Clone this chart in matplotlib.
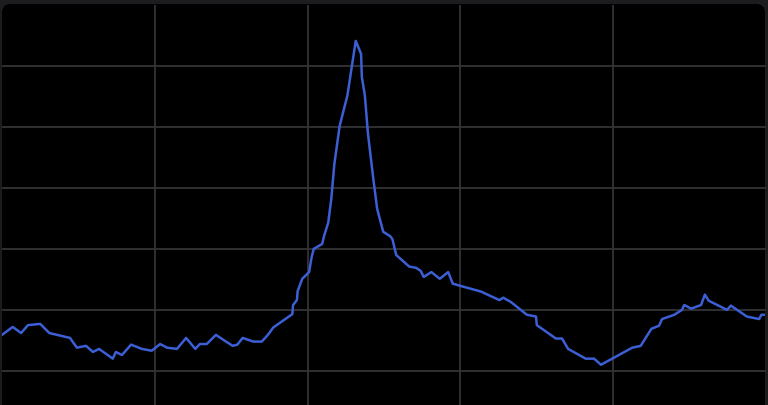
import matplotlib
matplotlib.use("Agg")
import matplotlib.pyplot as plt
from matplotlib.patches import FancyBboxPatch

# values (grid every 20 on x, every 10 on y)
x = [0.0, 1.4, 2.5, 3.4, 5.0, 6.2, 8.9, 9.8, 11.0, 11.9, 12.7, 14.5, 14.9, 15.7,
     16.9, 18.3, 19.6, 20.7, 21.6, 22.9, 24.1, 25.3, 25.9, 26.8, 28.0, 29.2, 30.2,
     30.8, 31.5, 32.9, 34.0, 34.8, 35.5, 36.4, 38.0, 38.1, 38.6, 38.7, 39.3, 40.2,
     40.5, 40.8, 41.9, 42.2, 42.7, 43.1, 43.5, 44.2, 45.2, 46.3, 47.0, 47.1, 47.5,
     47.9, 48.6, 49.1, 49.9, 50.8, 51.1, 51.6, 53.3, 54.2, 54.8, 55.2, 56.2, 57.3,
     58.4, 59.0, 60.1, 62.7, 65.1, 65.6, 66.6, 68.7, 69.9, 70.0, 72.5, 73.3, 74.1,
     76.4, 77.5, 78.4, 82.5, 83.6, 85.0, 86.0, 86.4, 88.0, 89.0, 89.3, 90.2, 91.5,
     92.0, 92.5, 94.9, 95.4, 97.5, 99.1, 99.4, 99.7]
y = [15.9, 17.2, 16.2, 17.5, 17.7, 16.2, 15.4, 13.8, 14.1, 13.1, 13.6, 12.0, 13.1, 12.6,
     14.3, 13.6, 13.3, 14.4, 13.8, 13.6, 15.4, 13.6, 14.4, 14.4, 15.9, 14.9, 14.1,
     14.3, 15.4, 14.8, 14.8, 15.9, 17.1, 17.9, 19.3, 20.8, 21.6, 23.1, 25.1, 26.2,
     28.5, 30.0, 30.8, 32.3, 34.3, 38.2, 43.9, 50.2, 55.1, 64.1, 62.0, 58.2, 55.1,
     48.9, 41.5, 36.6, 32.8, 32.1, 31.6, 29.0, 27.1, 26.9, 26.4, 25.4, 26.2, 25.1,
     26.2, 24.3, 23.9, 23.0, 21.6, 22.0, 21.3, 19.2, 18.9, 17.5, 15.3, 15.3, 13.6,
     12.0, 12.0, 11.0, 13.8, 14.1, 16.9, 17.4, 18.5, 19.2, 20.0, 20.8, 20.2, 20.8,
     22.5, 21.5, 20.0, 20.7, 18.9, 18.5, 19.2, 19.2]
xgrid = [20, 40, 60, 80]
ygrid = [10, 20, 30, 40, 50, 60]

fig = plt.figure(figsize=(7.68, 4.06), dpi=100, facecolor="#1c1c1e")

# black rounded panel behind the plot
panel = FancyBboxPatch((0.02, -0.2), 7.63, 4.21,
                       boxstyle="round,pad=0,rounding_size=0.09",
                       transform=fig.dpi_scale_trans,
                       facecolor="black", edgecolor="none", zorder=-1)
fig.patches.append(panel)

ax = fig.add_axes([2 / 768, 0, 764 / 768, 400 / 406])
ax.set_zorder(2)
ax.set_facecolor("none")
ax.plot(x, y, color="#3d5fd6", lw=1.8, solid_joinstyle="round", zorder=3)

ax.set_xlim(0, 100)
ax.set_ylim(4.4, 70)
ax.set_xticks(xgrid)
ax.set_yticks(ygrid)
ax.grid(True, color="#343436", lw=1.3)
ax.tick_params(length=0, labelbottom=False, labelleft=False)
for s in ax.spines.values():
    s.set_visible(False)

fig.savefig("out.png", dpi=100, facecolor=fig.get_facecolor())
